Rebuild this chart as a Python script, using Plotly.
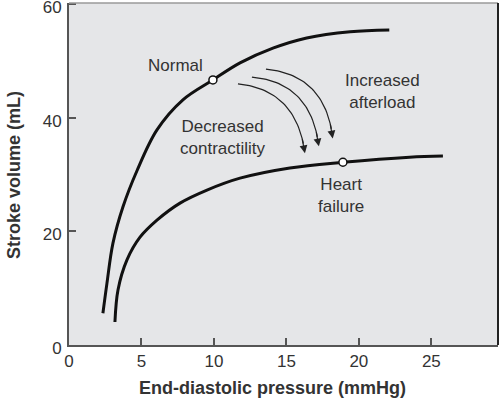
import numpy as np
import plotly.graph_objects as go

# Normal curve
normal_x = [2.34, 2.62, 3.03, 3.72, 4.69, 6.07, 7.86, 9.93, 11.8, 14.07, 16.4, 19.4, 22.1]
normal_y = [5.6, 10.9, 17.9, 24.3, 30.7, 37.9, 43.2, 46.7, 49.7, 52.3, 54.1, 55.2, 55.5]
# Heart failure curve
hf_x = [3.17, 3.38, 4.0, 4.9, 6.07, 7.66, 9.52, 11.8, 15.24, 18.9, 23.5, 25.8]
hf_y = [4.05, 9.7, 15.0, 19.0, 22.0, 25.0, 27.3, 29.4, 31.2, 32.2, 33.1, 33.3]
# Marked points
dot_x = [9.93, 18.9]
dot_y = [46.7, 32.2]
# Curved arrows: start, control, end
arrow_start = [(11.66, 46.0), (12.62, 47.2), (13.59, 48.6)]
arrow_ctrl = [(15.7, 45.0), (16.7, 46.3), (17.7, 47.6)]
arrow_end = [(16.28, 33.8), (17.24, 35.0), (18.2, 36.4)]
# Labels
label_text = ["Normal", "Decreased<br>contractility", "Increased<br>afterload", "Heart<br>failure"]
label_x = [7.38, 10.6, 21.6, 18.8]
label_y = [49.2, 36.5, 44.6, 26.4]
x_ticks = [0, 5, 10, 15, 20, 25]
y_ticks = [0, 20, 40, 60]

font = "Liberation Sans, Arial, sans-serif"
fig = go.Figure()

for cx, cy in [(normal_x, normal_y), (hf_x, hf_y)]:
    fig.add_trace(go.Scatter(x=cx, y=cy, mode="lines",
                             line=dict(color="#111", width=3, shape="spline", smoothing=1.0),
                             hoverinfo="skip", showlegend=False))

t = np.linspace(0, 1, 40)
for s, c, e in zip(arrow_start, arrow_ctrl, arrow_end):
    bx = (1 - t) ** 2 * s[0] + 2 * (1 - t) * t * c[0] + t ** 2 * e[0]
    by = (1 - t) ** 2 * s[1] + 2 * (1 - t) * t * c[1] + t ** 2 * e[1]
    fig.add_trace(go.Scatter(x=bx[:-3], y=by[:-3], mode="lines",
                             line=dict(color="#222", width=1.2),
                             hoverinfo="skip", showlegend=False))
    fig.add_annotation(x=e[0], y=e[1], ax=bx[-6], ay=by[-6], axref="x", ayref="y",
                       xref="x", yref="y", text="", showarrow=True,
                       arrowhead=2, arrowsize=1.3, arrowwidth=1.2, arrowcolor="#222")

fig.add_trace(go.Scatter(x=dot_x, y=dot_y, mode="markers",
                         marker=dict(color="white", size=8, line=dict(color="#111", width=1.5)),
                         hoverinfo="skip", showlegend=False))

for txt, lx, ly in zip(label_text, label_x, label_y):
    fig.add_annotation(x=lx, y=ly, text=txt, showarrow=False, xref="x", yref="y",
                       font=dict(family=font, size=17, color="#333"), align="center")

fig.add_annotation(x=0.475, y=-0.126, xref="paper", yref="paper", showarrow=False,
                   text="<b>End-diastolic pressure (mmHg)</b>", xanchor="center", yanchor="middle",
                   font=dict(family=font, size=18, color="#333"))
fig.add_annotation(x=-0.128, y=0.497, xref="paper", yref="paper", showarrow=False,
                   text="<b>Stroke volume (mL)</b>", textangle=-90, xanchor="center", yanchor="middle",
                   font=dict(family=font, size=18, color="#333"))

# frame: light top edge, dark right edge
fig.add_shape(type="line", xref="paper", yref="paper", x0=0, x1=1, y0=1, y1=1,
              line=dict(color="#9a9a9a", width=1.5))
fig.add_shape(type="line", xref="paper", yref="paper", x0=1, x1=1, y0=0, y1=1,
              line=dict(color="#222", width=2))

fig.update_layout(
    width=500, height=399,
    margin=dict(l=69, r=2, t=3, b=54),
    paper_bgcolor="white", plot_bgcolor="#e5e6e8",
    font=dict(family=font, size=17, color="#333"),
)
fig.update_xaxes(range=[0, 29.6], tickvals=x_ticks, ticks="inside", ticklen=7,
                 tickwidth=2, tickcolor="#555", showgrid=False, zeroline=False,
                 showline=True, linecolor="#555", linewidth=2,
                 automargin=False, ticklabeloverflow="allow",
                 tickfont=dict(size=17, color="#333"))
fig.update_yaxes(range=[0, 60.26], tickvals=y_ticks, ticks="inside", ticklen=7,
                 tickwidth=2, tickcolor="#555", showgrid=False, zeroline=False,
                 showline=True, linecolor="#555", linewidth=2,
                 automargin=False, ticklabeloverflow="allow", ticklabelshift=3,
                 ticklabelstandoff=2,
                 tickfont=dict(size=17, color="#333"))

fig.write_html("out.html", config={"displayModeBar": False},
               post_script="document.body.style.margin='0px';document.body.style.overflow='hidden';")
